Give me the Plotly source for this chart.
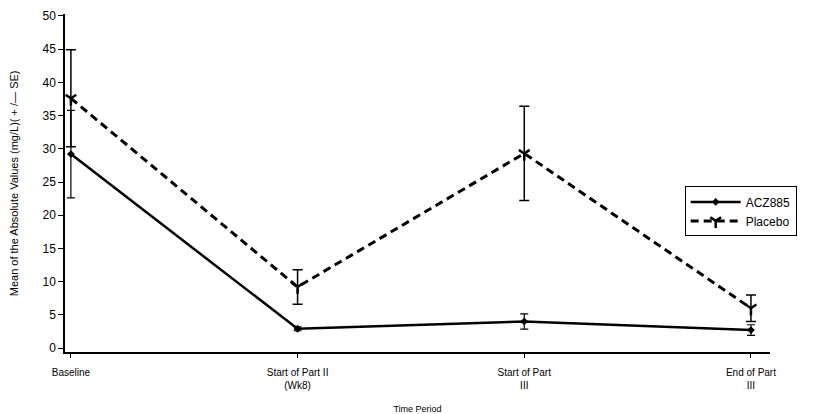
import plotly.graph_objects as go

# Time points on the x axis
periods = ["Baseline", "Start of Part II<br>(Wk8)", "Start of Part<br>III", "End of Part<br>III"]
positions = [0, 1, 2, 3]

# Mean CRP (mg/L) and standard errors per treatment group
acz885_mean = [29.2, 2.9, 4.0, 2.7]
acz885_se = [6.6, 0.3, 1.15, 0.8]
placebo_mean = [37.6, 9.2, 29.3, 6.0]
placebo_se = [7.3, 2.6, 7.1, 2.0]

y_title = "Mean of the Absolute Values (mg/L)( + /\u2014 SE)"

fig = go.Figure()

fig.add_trace(go.Scatter(
    x=positions, y=acz885_mean, name="ACZ885", mode="lines+markers",
    line=dict(color="black", width=2.5, dash="solid"),
    marker=dict(symbol="diamond", size=6, color="black"),
    error_y=dict(type="data", array=acz885_se, visible=True,
                 color="black", thickness=1.2, width=4),
))

fig.add_trace(go.Scatter(
    x=positions, y=placebo_mean, name="Placebo", mode="lines+markers",
    line=dict(color="black", width=3, dash="8px,5px"),
    marker=dict(symbol="y-down-open", size=9, color="black",
                line=dict(color="black", width=2.5)),
    error_y=dict(type="data", array=placebo_se, visible=True,
                 color="black", thickness=1.5, width=5),
))

font_family = "Liberation Sans, Arial, sans-serif"

fig.update_layout(
    width=817, height=414,
    margin=dict(l=65, r=47, t=14, b=62),
    paper_bgcolor="white", plot_bgcolor="white",
    font=dict(family=font_family, color="black"),
    showlegend=True,
    legend=dict(
        x=0.879, y=0.49, xanchor="left", yanchor="top",
        bordercolor="black", borderwidth=1, bgcolor="white",
        font=dict(size=12, family=font_family, color="black"),
        tracegroupgap=0, itemwidth=50, entrywidth=130,
    ),
    xaxis=dict(
        range=[-0.026, 3.084],
        tickmode="array", tickvals=positions, ticktext=periods,
        showline=True, linecolor="black", linewidth=1.5,
        ticks="outside", ticklen=4, tickcolor="black",
        ticklabelstandoff=6, automargin=False,
        showgrid=False, zeroline=False,
        tickfont=dict(size=10, family=font_family),
        title=dict(text="Time Period", font=dict(size=9, family=font_family),
                   standoff=18),
    ),
    yaxis=dict(
        range=[-0.6, 50.3],
        tickmode="array", tickvals=list(range(0, 51, 5)),
        showline=True, linecolor="black", linewidth=1.5,
        ticks="outside", ticklen=5, tickcolor="black",
        showgrid=False, zeroline=False, automargin=False,
        tickfont=dict(size=12, family=font_family),
    ),
    annotations=[dict(
        text=y_title, textangle=-90, showarrow=False,
        xref="paper", yref="paper", x=-0.072, y=0.50,
        xanchor="center", yanchor="middle",
        font=dict(size=11, family=font_family, color="black"),
    )],
)

fig.write_html("out.html")
